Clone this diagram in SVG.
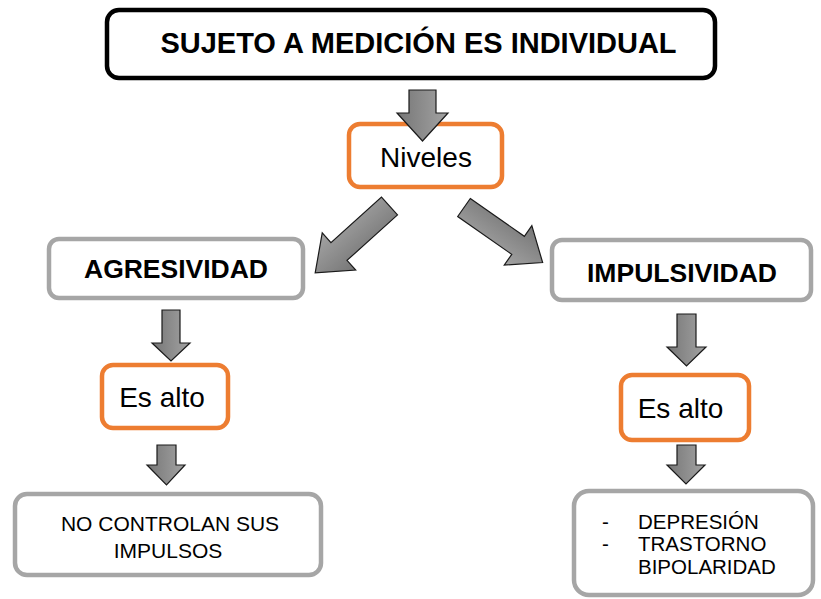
<svg xmlns="http://www.w3.org/2000/svg" width="821" height="599" viewBox="0 0 821 599">
<defs>
<linearGradient id="ag" x1="0" y1="0" x2="1" y2="0">
<stop offset="0" stop-color="#767676"/>
<stop offset="1" stop-color="#a3a3a3"/>
</linearGradient>
<linearGradient id="agd" x1="0" y1="0" x2="0" y2="1">
<stop offset="0" stop-color="#767676"/>
<stop offset="1" stop-color="#a3a3a3"/>
</linearGradient>
</defs>
<style>
.blk{fill:#fff;stroke:#000;stroke-width:4.5}
.org{fill:#fff;stroke:#ED7D31;stroke-width:4.5}
.gry{fill:#fff;stroke:#A6A6A6;stroke-width:4.5}
.arr{fill:url(#ag);stroke:#1a1a1a;stroke-width:1.2;stroke-linejoin:miter}
.arrd{fill:url(#agd);stroke:#1a1a1a;stroke-width:1.2}
text{font-family:"Liberation Sans",Arial,sans-serif;fill:#000}
.b{font-weight:bold}
.m{text-anchor:middle}
</style>
<g id="n-titulo">
<rect class="blk" x="107" y="10" width="608" height="68" rx="12"/>
<text class="b m" x="418.5" y="53" font-size="29">SUJETO A MEDICIÓN ES INDIVIDUAL</text>
</g>
<g id="n-niveles">
<rect class="org" x="349" y="124" width="153" height="63" rx="11"/>
<text class="m" x="426" y="167" font-size="28">Niveles</text>
</g>
<g id="n-agresividad">
<rect class="gry" x="49" y="239" width="254" height="59" rx="10"/>
<text class="b m" x="176" y="278" font-size="25" textLength="184" lengthAdjust="spacingAndGlyphs">AGRESIVIDAD</text>
</g>
<g id="n-impulsividad">
<rect class="gry" x="552" y="240" width="259" height="60" rx="10"/>
<text class="b m" x="682" y="282" font-size="25" textLength="190" lengthAdjust="spacingAndGlyphs">IMPULSIVIDAD</text>
</g>
<g id="n-esalto-izq">
<rect class="org" x="102" y="365" width="126" height="63" rx="11"/>
<text class="m" x="162" y="407" font-size="28">Es alto</text>
</g>
<g id="n-esalto-der">
<rect class="org" x="621" y="375" width="128" height="65" rx="11"/>
<text class="m" x="680.5" y="418" font-size="28">Es alto</text>
</g>
<g id="n-nocontrolan">
<rect class="gry" x="15" y="494" width="306" height="81" rx="12"/>
<text class="m" x="170" y="531" font-size="21">NO CONTROLAN SUS</text>
<text class="m" x="168" y="558" font-size="21">IMPULSOS</text>
</g>
<g id="n-trastornos">
<rect class="gry" x="574" y="491" width="239" height="104" rx="15"/>
<text x="602" y="529" font-size="20.5">-</text>
<text x="638" y="529" font-size="20.5">DEPRESIÓN</text>
<text x="602" y="551" font-size="20.5">-</text>
<text x="638" y="551" font-size="20.5">TRASTORNO</text>
<text x="638" y="574" font-size="20.5">BIPOLARIDAD</text>
</g>
<g id="connectors">
<polygon class="arr" points="409,90 436,90 436,113 448,113 422.5,141 397,113 409,113"/>
<polygon class="arrd" transform="translate(389.5,206) rotate(138)" points="0,-12 68,-12 68,-25 100,0 68,25 68,12 0,12"/>
<polygon class="arrd" transform="translate(464,207.5) rotate(35)" points="0,-11 66,-11 66,-24 96,0 66,24 66,11 0,11"/>
<polygon class="arr" points="162,310 180,310 180,343 190,343 171,361 152,343 162,343"/>
<polygon class="arr" points="157,445 176,445 176,465 185,465 166.5,485 147,465 157,465"/>
<polygon class="arr" points="677,314 696,314 696,347 706,347 686.5,366 667,347 677,347"/>
<polygon class="arr" points="677,445 696,445 696,465 705,465 686,484 667,465 677,465"/>
</g>
</svg>
